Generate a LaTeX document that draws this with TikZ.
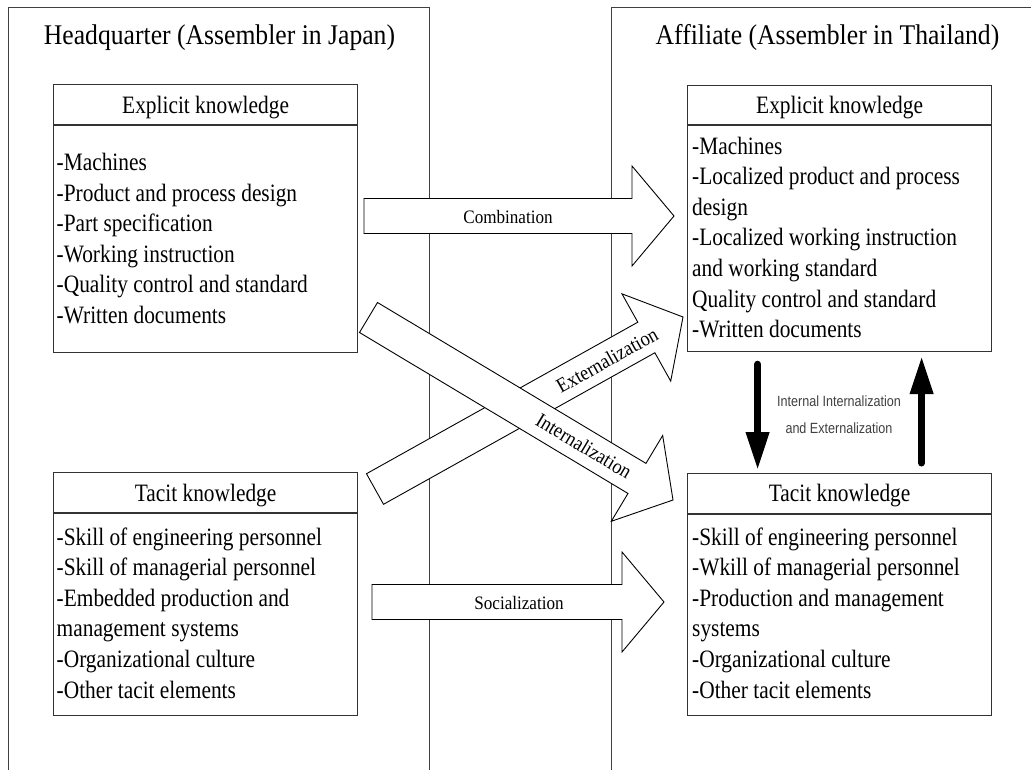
\documentclass[tikz,border=0pt]{standalone}
\usepackage{fontspec}
\setmainfont[FakeStretch=0.855]{Liberation Serif}
\newfontfamily\titleserif[FakeStretch=0.9]{Liberation Serif}
\newfontfamily\labelsans[FakeStretch=0.85]{Liberation Sans}
\usetikzlibrary{calc,arrows.meta}

% block-arrow geometry
\def\shafthalf{17.5pt}
\def\headhalf{50pt}
\def\headlen{42pt}

% #1 tail centre, #2 tip, #3 name for the head base
\newcommand\flowarrow[3]{%
  \coordinate (#3) at ($(#2)!\headlen!(#1)$);
  \draw[flow] ($(#1)!\shafthalf!90:(#2)$) -- ($(#3)!\shafthalf!90:(#2)$)
     -- ($(#3)!\headhalf!90:(#2)$) -- (#2) -- ($(#3)!\headhalf!-90:(#2)$)
     -- ($(#3)!\shafthalf!-90:(#2)$) -- ($(#1)!\shafthalf!-90:(#2)$) -- cycle;
}

\tikzset{
  panel/.style={draw=black!75, line width=1pt},
  boxline/.style={draw=black!80, line width=1.2pt},
  kbox/.style={boxline, fill=white, anchor=north west, inner sep=0pt, minimum width=304pt},
  boxtitle/.style={anchor=base, inner sep=0pt, font=\fontsize{25}{29}\selectfont},
  item/.style={anchor=base west, inner sep=0pt, font=\fontsize{25}{29}\selectfont},
  heading/.style={anchor=base, inner sep=0pt, font=\titleserif\fontsize{28.5}{33}\selectfont},
  flow/.style={draw=black, line width=0.9pt, fill=white, line join=miter},
  flowlabel/.style={inner sep=0pt, font=\titleserif\fontsize{19}{22}\selectfont},
  turnlabel/.style={inner sep=0pt, font=\titleserif\fontsize{20.5}{24}\selectfont},
  smalllabel/.style={anchor=base, inner sep=0pt, text=black!75, font=\labelsans\fontsize{14.8}{18}\selectfont},
  transfer/.style={line width=7pt, line cap=round, -{Triangle[length=38pt,width=22pt]}},
}

\begin{document}
\begin{tikzpicture}[x=1pt, y=-1pt]
\useasboundingbox (0,0) rectangle (1031,769);
\clip (0,0) rectangle (1031,769);
\fill[white] (0,0) rectangle (1031,769);

% two organisation panels
\draw[panel] (8,780) -- (8,7) -- (429,7) -- (429,780);
\draw[panel] (611,780) -- (611,7) -- (1040,7);
\node[heading] (hq) at (219.5,44) {Headquarter (Assembler in Japan)};
\node[heading] (af) at (827.5,44) {Affiliate (Assembler in Thailand)};

% headquarter: explicit knowledge
\node[kbox, minimum height=268pt] (lexp) at (53,84) {};
\draw[boxline] ($(lexp.north west)+(0,41)$) -- ($(lexp.north east)+(0,41)$);
\node[boxtitle] (lexp-t) at ($(lexp.north)+(0,29)$) {Explicit knowledge};
\foreach \txt [count=\i from 0] in {-Machines,-Product and process design,-Part specification,-Working instruction,-Quality control and standard,-Written documents}
  \node[item] (lexp-\i) at ($(lexp.north west)+(3.5,{86.5+30.5*\i})$) {\txt};

% headquarter: tacit knowledge
\node[kbox, minimum height=243pt] (ltac) at (53,472) {};
\draw[boxline] ($(ltac.north west)+(0,41)$) -- ($(ltac.north east)+(0,41)$);
\node[boxtitle] (ltac-t) at ($(ltac.north)+(0,29.5)$) {Tacit knowledge};
\foreach \txt [count=\i from 0] in {-Skill of engineering personnel,-Skill of managerial personnel,-Embedded production and,management systems,-Organizational culture,-Other tacit elements}
  \node[item] (ltac-\i) at ($(ltac.north west)+(3.5,{73+30.6*\i})$) {\txt};

% affiliate: explicit knowledge
\node[kbox, minimum height=266pt] (rexp) at (687,85) {};
\draw[boxline] ($(rexp.north west)+(0,40)$) -- ($(rexp.north east)+(0,40)$);
\node[boxtitle] (rexp-t) at ($(rexp.north)+(0,28)$) {Explicit knowledge};
\foreach \txt [count=\i from 0] in {-Machines,-Localized product and process,design,-Localized working instruction,and working standard,Quality control and standard,-Written documents}
  \node[item] (rexp-\i) at ($(rexp.north west)+(5,{69+30.6*\i})$) {\txt};

% affiliate: tacit knowledge
\node[kbox, minimum height=242pt] (rtac) at (687,473) {};
\draw[boxline] ($(rtac.north west)+(0,41)$) -- ($(rtac.north east)+(0,41)$);
\node[boxtitle] (rtac-t) at ($(rtac.north)+(0,28.7)$) {Tacit knowledge};
\foreach \txt [count=\i from 0] in {-Skill of engineering personnel,-Wkill of managerial personnel,-Production and management,systems,-Organizational culture,-Other tacit elements}
  \node[item] (rtac-\i) at ($(rtac.north west)+(5,{72+30.6*\i})$) {\txt};

% knowledge conversion arrows
\coordinate (comb-a) at (364,216);  \coordinate (comb-b) at (674,216);
\coordinate (soc-a)  at (372,602);  \coordinate (soc-b)  at (664,602);
\coordinate (ext-a)  at (375,489);  \coordinate (ext-b)  at (683,317);
\coordinate (int-a)  at (368.5,317.5); \coordinate (int-b) at (673,500);

\flowarrow{comb-a}{comb-b}{comb-h}
\node[flowlabel, anchor=base] (comb-l) at (508,223) {Combination};
\flowarrow{soc-a}{soc-b}{soc-h}
\node[flowlabel, anchor=base] (soc-l) at (519,609) {Socialization};
\flowarrow{ext-a}{ext-b}{ext-h}
\node[turnlabel, rotate=29.2] (ext-l) at (607,360) {Externalization};
\flowarrow{int-a}{int-b}{int-h}
\node[turnlabel, rotate=-30.9] (int-l) at (584,446) {Internalization};

% internal conversion inside the affiliate
\draw[transfer] ([xshift=-82pt, yshift=-12pt]rexp.south) -- ([xshift=-82pt, yshift=3pt]rtac.north);
\draw[transfer] ([xshift=82pt, yshift=10pt]rtac.north) -- ([xshift=82pt, yshift=-4pt]rexp.south);
\node[smalllabel] (ie-1) at (839,406) {Internal Internalization};
\node[smalllabel] (ie-2) at (839,433) {and Externalization};
\end{tikzpicture}
\end{document}
